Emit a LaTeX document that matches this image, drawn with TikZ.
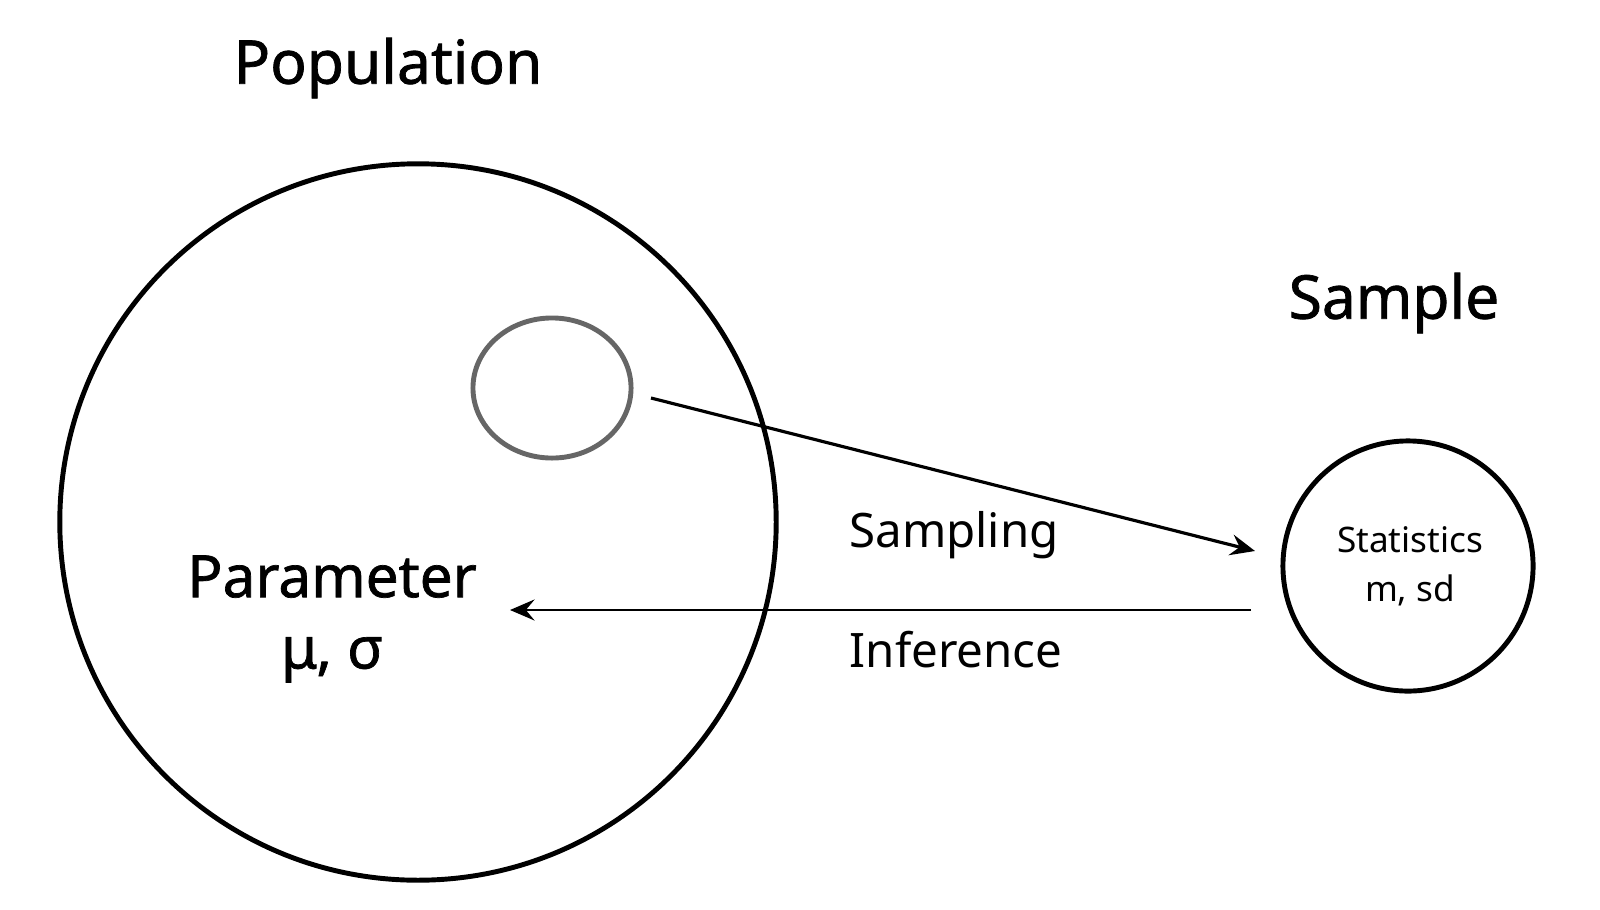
\documentclass[tikz,border=0pt]{standalone}
\usepackage{fontspec}
\setmainfont{Noto Sans}
\newfontfamily\medfont[FakeBold=1.2]{Noto Sans}
\usetikzlibrary{arrows.meta,positioning,shapes.geometric}

\begin{document}
\begin{tikzpicture}[
    x=0.01cm, y=-0.01cm,
    title/.style={font=\medfont\fontsize{17.2}{20}\selectfont, inner sep=0pt},
    label/.style={font=\fontsize{13.5}{16}\selectfont, inner sep=0pt},
    ring/.style={draw, line width=1.4pt, inner sep=0pt},
    arrow/.style={-{Stealth[length=7pt, width=6pt, inset=2.5pt]}}
]
    \useasboundingbox (0,0) rectangle (1600,909);

    % Population
    \node[ring, circle, minimum size=7.16cm] (pop) at (418,522) {};
    \node[title] (poptitle) at (388,68) {Population};
    \node[ring, draw=black!60, ellipse, minimum width=1.58cm, minimum height=1.4cm] (sub) at (552,388) {};
    \node[font=\medfont\fontsize{16.6}{20.3}\selectfont, align=center, inner sep=0pt] (param) at (332,619) {Parameter\\ μ, σ};

    % Sample
    \node[ring, circle, minimum size=2.5cm] (samp) at (1408,566) {};
    \node[title] (samptitle) at (1394,303) {Sample};
    \node[font=\fontsize{10}{14}\selectfont, align=center, inner sep=0pt] (stat) at (1410,566) {Statistics\\ m, sd};

    % Connections
    \coordinate (sfrom) at (651,398);
    \coordinate (sto) at (1255,551);
    \coordinate (ifrom) at (1251,610);
    \coordinate (ito) at (510,610);
    \draw[arrow, line width=0.9pt] (sfrom) -- (sto);
    \draw[arrow, line width=0.6pt] (ifrom) -- (ito);
    \node[label] (sampling) at (954,535) {Sampling};
    \node[label] (inference) at (956,650) {Inference};
\end{tikzpicture}
\end{document}
